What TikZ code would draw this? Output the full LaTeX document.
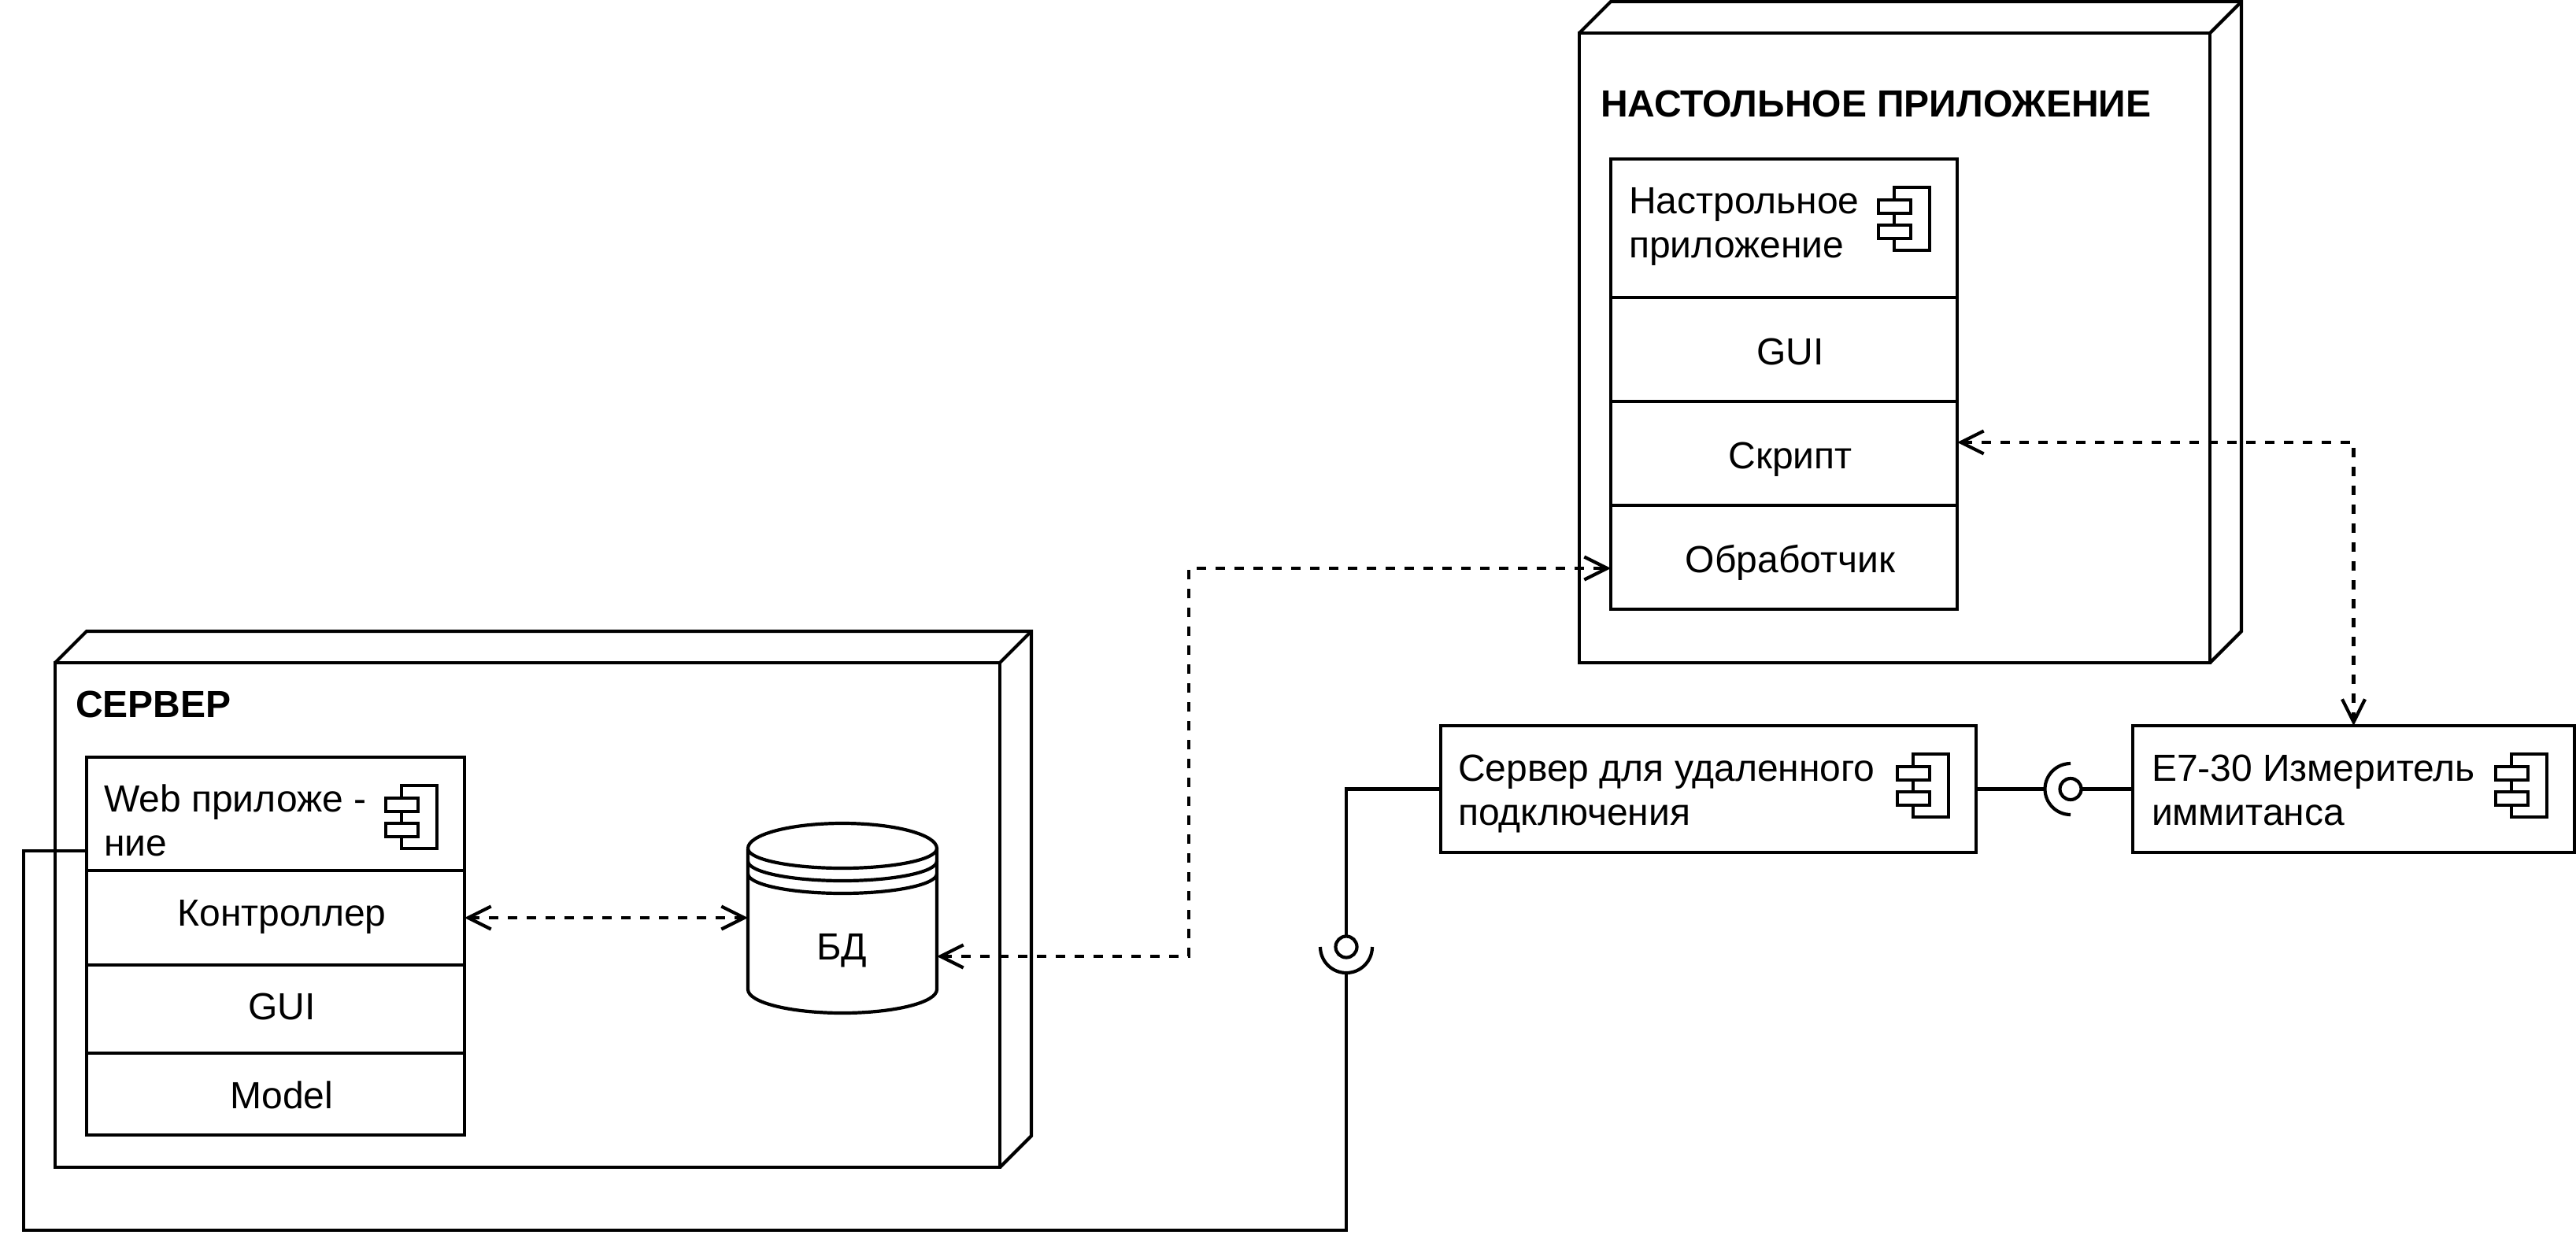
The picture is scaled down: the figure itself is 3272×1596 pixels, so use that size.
\documentclass[tikz,border=0pt]{standalone}
\usepackage{fontspec}
\setmainfont{Liberation Sans}
\usetikzlibrary{calc}
\usetikzlibrary{arrows.meta}

\tikzset{
  every node/.style={inner sep=0pt,outer sep=0pt},
  cell/.style={draw,rectangle},
  celltext/.style={anchor=base},
  headtext/.style={anchor=base west,align=left},
  titletext/.style={anchor=base west,font=\bfseries\fontsize{24}{28}\selectfont},
  dep/.style={dash pattern=on 6pt off 6pt,<->},
  compicon/.pic={
    \draw (-80,36) rectangle (-35,116);
    \draw[fill=white] (-100,52) rectangle (-59,69);
    \draw[fill=white] (-100,84) rectangle (-59,101);
  },
}

% depth lines of a deployment box
\newcommand{\boxdepth}[1]{
  \draw (#1.north west) -- ($(#1.north west)+(40,-40)$) -- ($(#1.north east)+(40,-40)$)
    -- ($(#1.south east)+(40,-40)$) -- (#1.south east);
  \draw (#1.north east) -- ($(#1.north east)+(40,-40)$);
}

\begin{document}
\begin{tikzpicture}[%
  >={Straight Barb[length=14.5pt,width=14.5pt]},
  x=0.5pt,y=-0.5pt,
  line width=2.1pt,
  font=\fontsize{24}{27.85}\selectfont,
]

  \useasboundingbox (0,0) rectangle (3272,1596);

  % server
  \node[cell,minimum width=600pt,minimum height=320.5pt] (server) at (670,1162.5) {};
  \boxdepth{server}
  \node[titletext] (servertitle) at (96,911) {СЕРВЕР};

  \node[cell,minimum width=240pt,minimum height=72pt] (webhead) at (350,1034) {};
  \node[cell,minimum width=240pt,minimum height=60pt] (webctrl) at (350,1166) {};
  \node[cell,minimum width=240pt,minimum height=56pt] (webgui) at (350,1282) {};
  \node[cell,minimum width=240pt,minimum height=52pt] (webmodel) at (350,1390) {};
  \pic at (webhead.north east) {compicon};

  \node[headtext] (webheadtext) at (132,1087) {Web приложе -\\ние};
  \node[celltext] (webctrltext) at (358,1176) {Контроллер};
  \node[celltext] (webguitext) at (358,1295) {GUI};
  \node[celltext] (webmodeltext) at (358,1408) {Model};

  % database
  \node (bd) at (1070,1167) [minimum width=120pt,minimum height=121pt] {};
  \draw (950,1078) -- (950,1257) arc[start angle=180,end angle=360,x radius=60pt,y radius=15pt]
    -- (1190,1078) arc[start angle=0,end angle=180,x radius=60pt,y radius=16pt];
  \draw (950,1078) arc[start angle=180,end angle=360,x radius=60pt,y radius=12.5pt];
  \draw (950,1094) arc[start angle=180,end angle=360,x radius=60pt,y radius=12.5pt];
  \draw (950,1110) arc[start angle=180,end angle=360,x radius=60pt,y radius=12.5pt];
  \node[celltext] (bdtext) at (1069,1219) {БД};

  % desktop
  \node[cell,minimum width=400.5pt,minimum height=400pt] (desktop) at (2406.5,442) {};
  \boxdepth{desktop}
  \node[titletext] (desktoptitle) at (2033,148) {НАСТОЛЬНОЕ ПРИЛОЖЕНИЕ};

  \node[cell,minimum width=220pt,minimum height=88pt] (apphead) at (2266,290) {};
  \node[cell,minimum width=220pt,minimum height=66pt] (appgui) at (2266,444) {};
  \node[cell,minimum width=220pt,minimum height=66pt] (appscript) at (2266,576) {};
  \node[cell,minimum width=220pt,minimum height=66pt] (appproc) at (2266,708) {};
  \pic at (apphead.north east) {compicon};

  \node[headtext] (appheadtext) at (2069,327) {Настрольное\\приложение};
  \node[celltext] (appguitext) at (2274,463) {GUI};
  \node[celltext] (appscripttext) at (2274,595) {Скрипт};
  \node[celltext] (appproctext) at (2274,727) {Обработчик};

  % remote server and meter
  \node[cell,minimum width=340pt,minimum height=80.5pt] (remote) at (2170,1002.5) {};
  \pic at (remote.north east) {compicon};
  \node[headtext] (remotetext) at (1852,1048) {Сервер для удаленного\\подключения};

  \node[cell,minimum width=280.5pt,minimum height=80.5pt] (meter) at (2989.5,1002.5) {};
  \pic at (meter.north east) {compicon};
  \node[headtext] (metertext) at (2733,1048) {Е7-30 Измеритель\\иммитанса};

  % sockets
  \node[draw,circle,minimum size=13.5pt] (sockb) at (1710,1203) {};
  \coordinate (cupb) at (1710,1236);
  \draw (1677,1203) arc[start angle=180,end angle=360,radius=16.5pt];
  \node[draw,circle,minimum size=13.5pt] (socka) at (2630,1002.5) {};
  \coordinate (cupa) at (2597,1002.5);
  \draw (2630,970) arc[start angle=90,end angle=270,radius=16.25pt];

  % wires
  \coordinate (webport) at (110,1081);
  \coordinate (wirecorner) at (30,1563);
  \draw (webport) -| (wirecorner) -| (cupb);
  \draw (remote.west) -| (sockb.north);
  \draw (remote.east) -- (cupa);
  \draw (socka.east) -- (meter.west);

  % dependencies
  \coordinate (jog) at (1510,968);
  \draw[dep] (webctrl.east) -- (webctrl.east -| bd.west);
  \draw[dep] ([yshift=-24pt]bd.east) -| (jog) |- ([yshift=-7pt]appproc.west);
  \draw[dep] ([yshift=7pt]appscript.east) -| (meter.north);

\end{tikzpicture}
\end{document}
